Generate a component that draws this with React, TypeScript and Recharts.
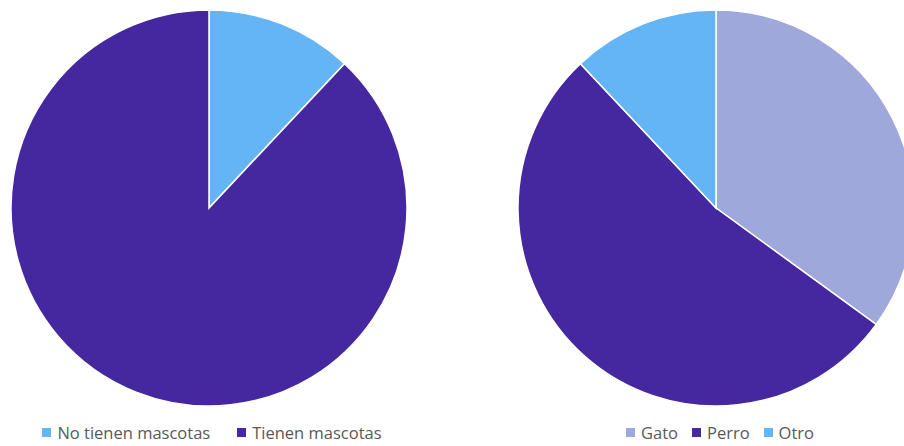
import { PieChart, Pie, Cell, Legend } from "recharts";

const ownershipLabels = ["No tienen mascotas", "Tienen mascotas"];
const ownershipValues = [12, 88];
const ownershipColors = ["#64b5f6", "#4527a0"];

const petLabels = ["Gato", "Perro", "Otro"];
const petValues = [35, 53, 12];
const petColors = ["#9fa8da", "#4527a0", "#64b5f6"];

const ownershipData = ownershipLabels.map((name, i) => ({ name, value: ownershipValues[i] }));
const petData = petLabels.map((name, i) => ({ name, value: petValues[i] }));

const FONT = "'Open Sans', 'Noto Sans', sans-serif";

function LegendRow({ payload, order, gap }: { payload?: any[]; order: string[]; gap: number }) {
  // keep the data order, recharts sorts legend items by name
  const items = [...(payload ?? [])].sort((a, b) => order.indexOf(a.value) - order.indexOf(b.value));
  return (
    <div style={{ display: "flex", justifyContent: "center", alignItems: "center", fontFamily: FONT, fontSize: 16.5, color: "#595959" }}>
      {items.map((p, i) => (
        <div key={p.value} style={{ display: "flex", alignItems: "center", marginLeft: i === 0 ? 0 : gap }}>
          <span style={{ width: 9, height: 9, background: p.color, marginRight: 6, display: "inline-block" }} />
          <span>{p.value}</span>
        </div>
      ))}
    </div>
  );
}

function PlainPie({ data, colors, cx, legendWidth, gap }: {
  data: { name: string; value: number }[]; colors: string[]; cx: number;
  legendWidth: number; gap: number;
}) {
  const order = data.map((d) => d.name);
  return (
    <PieChart width={452} height={446} margin={{ top: 0, right: 0, bottom: 0, left: 0 }}>
      <Pie
        data={data}
        dataKey="value"
        nameKey="name"
        cx={cx}
        cy={208}
        outerRadius={198}
        startAngle={90}
        endAngle={-270}
        stroke="#ffffff"
        strokeWidth={1.5}
        isAnimationActive={false}
      >
        {data.map((d, i) => <Cell key={d.name} fill={colors[i]} />)}
      </Pie>
      <Legend
        verticalAlign="bottom"
        content={(props: any) => <LegendRow payload={props.payload} order={order} gap={gap} />}
        wrapperStyle={{ left: 0, width: legendWidth, bottom: 2 }}
      />
    </PieChart>
  );
}

export default function App() {
  return (
    <div style={{ position: "absolute", left: 0, top: 0, width: 904, height: 446, background: "#fff" }}>
      <div style={{ position: "absolute", left: 0, top: 0 }}>
        <PlainPie data={ownershipData} colors={ownershipColors} cx={209} legendWidth={424} gap={27} />
      </div>
      <div style={{ position: "absolute", left: 452, top: 0 }}>
        <PlainPie data={petData} colors={petColors} cx={264} legendWidth={536} gap={14} />
      </div>
    </div>
  );
}
